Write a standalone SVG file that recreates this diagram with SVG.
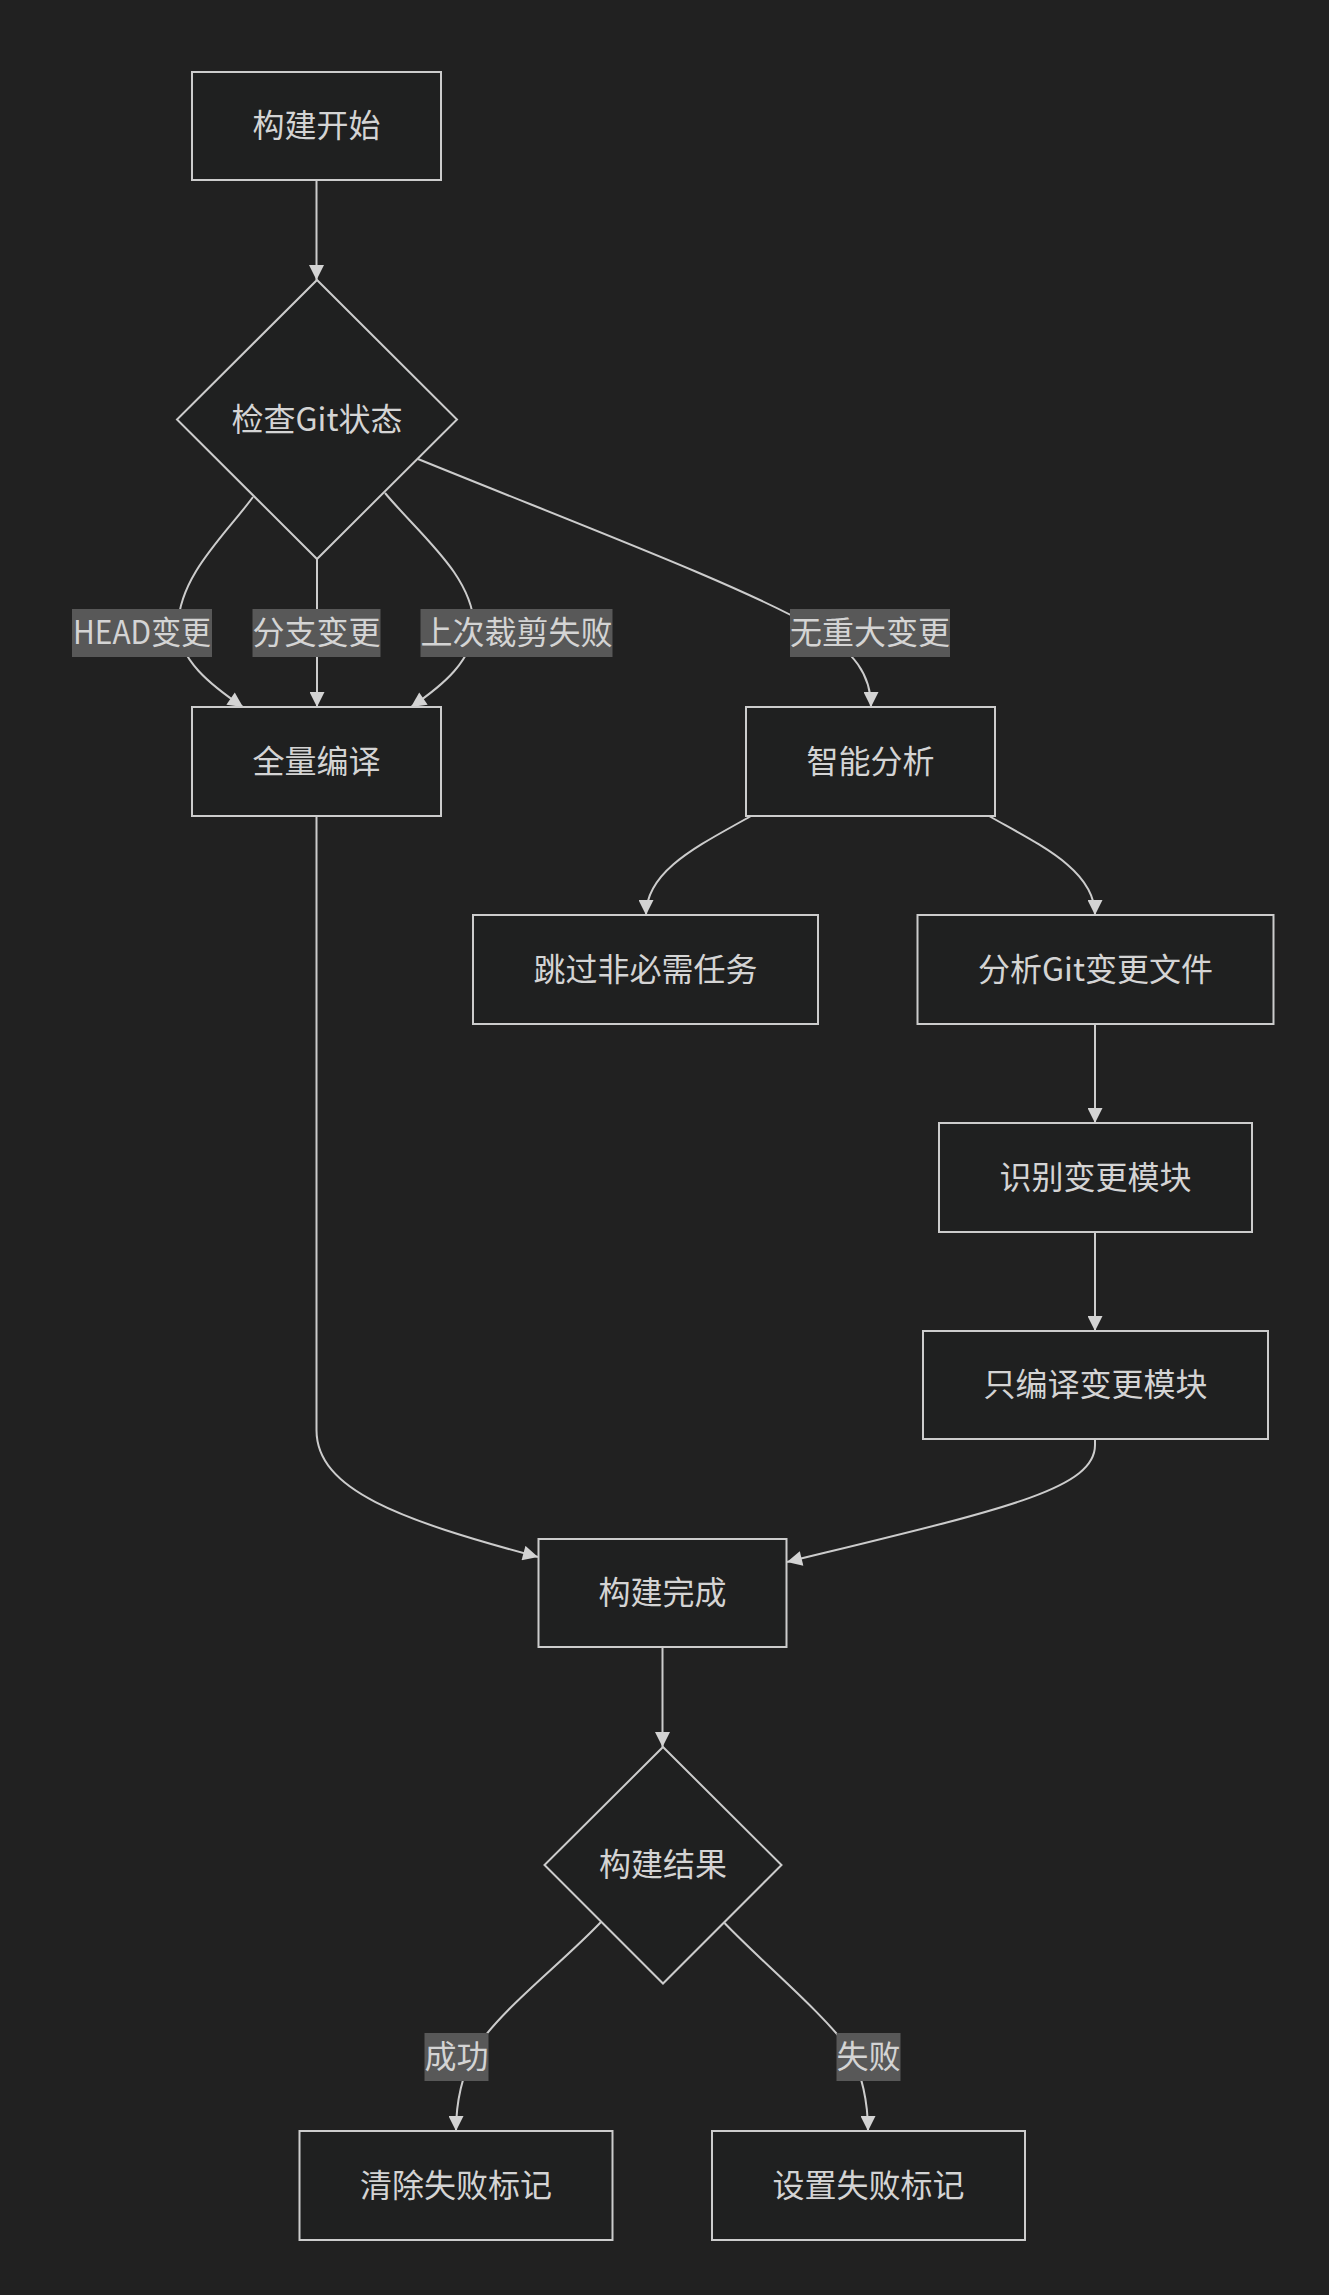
<svg xmlns="http://www.w3.org/2000/svg" width="1329" height="2295" viewBox="0 0 1329 2295">
<style>
.node rect, .node polygon { fill: #1f2020; stroke: #cccccc; stroke-width: 2; }
.node text { fill: #d4d4d4; font-family: "Noto Sans CJK SC", "Noto Sans", sans-serif; font-size: 32px; text-anchor: middle; dominant-baseline: central; }
.edge { fill: none; stroke: #cccccc; stroke-width: 2; marker-end: url(#arrow); }
.elabel rect { fill: #585858; }
.elabel text { fill: #d4d4d4; font-family: "Noto Sans CJK SC", "Noto Sans", sans-serif; font-size: 32px; text-anchor: middle; dominant-baseline: central; }
</style>
<defs>
<marker id="arrow" viewBox="0 0 10 10" refX="10" refY="5" markerUnits="userSpaceOnUse" markerWidth="16" markerHeight="15" orient="auto">
<path d="M0,0 L10,5 L0,10 z" fill="#d3d3d3"/>
</marker>
</defs>
<rect x="0" y="0" width="1329" height="2295" fill="#212121"/>
<g id="connectors">
<path class="edge" d="M316.5,181 L316.5,280"/>
<path class="edge" d="M253,497 C225,535 180,575 178,625 C178,660 212,686 243,707"/>
<path class="edge" d="M317,559 L317,707"/>
<path class="edge" d="M385,493 C420,535 472,575 474,625 C474,660 442,686 411,707"/>
<path class="edge" d="M418,459 C580,525 740,585 815,628 C855,652 871,675 871,707"/>
<path class="edge" d="M751,816 C700,845 646,870 646,915"/>
<path class="edge" d="M989,816 C1040,845 1095,870 1095,915"/>
<path class="edge" d="M1095,1024 L1095,1123"/>
<path class="edge" d="M1095,1232 L1095,1331"/>
<path class="edge" d="M316.5,816 L316.5,1430 C316.5,1490 400,1520 538,1557"/>
<path class="edge" d="M1095,1440 L1095,1445 C1095,1490 1000,1510 787,1562"/>
<path class="edge" d="M662.5,1648 L662.5,1747"/>
<path class="edge" d="M601,1922 C560,1965 500,2010 475,2050 C462,2075 456,2100 456,2131"/>
<path class="edge" d="M724.5,1923 C765,1965 820,2010 850,2050 C862,2075 868,2100 868,2131"/>
</g>
<g id="edge-labels">
<g class="elabel"><rect x="72" y="609" width="140" height="48"/><text x="142" y="630" textLength="138" lengthAdjust="spacingAndGlyphs">HEAD变更</text></g>
<g class="elabel"><rect x="252.5" y="609" width="128" height="48"/><text x="316.5" y="630">分支变更</text></g>
<g class="elabel"><rect x="420.5" y="609" width="192" height="48"/><text x="516.5" y="630">上次裁剪失败</text></g>
<g class="elabel"><rect x="790" y="609" width="160" height="48"/><text x="870" y="630">无重大变更</text></g>
<g class="elabel"><rect x="424.5" y="2033" width="64" height="48"/><text x="456.5" y="2054">成功</text></g>
<g class="elabel"><rect x="836.5" y="2033" width="64" height="48"/><text x="868.5" y="2054">失败</text></g>
</g>
<g id="n-start" class="node"><rect x="192" y="72" width="249" height="108"/><text x="316.5" y="123">构建开始</text></g>
<g id="n-check" class="node"><polygon points="317,280 457,419.5 317,559 177,419.5"/><text x="317" y="416.5">检查Git状态</text></g>
<g id="n-full" class="node"><rect x="192" y="707" width="249" height="109"/><text x="316.5" y="758.5">全量编译</text></g>
<g id="n-smart" class="node"><rect x="746" y="707" width="249" height="109"/><text x="870.5" y="758.5">智能分析</text></g>
<g id="n-skip" class="node"><rect x="473" y="915" width="345" height="109"/><text x="645.5" y="966.5">跳过非必需任务</text></g>
<g id="n-analyze" class="node"><rect x="917.5" y="915" width="356" height="109"/><text x="1095.5" y="966.5">分析Git变更文件</text></g>
<g id="n-identify" class="node"><rect x="939" y="1123" width="313" height="109"/><text x="1095.5" y="1174.5">识别变更模块</text></g>
<g id="n-compile" class="node"><rect x="923" y="1331" width="345" height="108"/><text x="1095.5" y="1382">只编译变更模块</text></g>
<g id="n-done" class="node"><rect x="538.5" y="1539" width="248" height="108"/><text x="662.5" y="1590">构建完成</text></g>
<g id="n-result" class="node"><polygon points="663,1747 781.5,1865 663,1983.5 544.5,1865"/><text x="663" y="1862">构建结果</text></g>
<g id="n-clear" class="node"><rect x="299.5" y="2131" width="313" height="109"/><text x="456" y="2182.5">清除失败标记</text></g>
<g id="n-set" class="node"><rect x="712" y="2131" width="313" height="109"/><text x="868.5" y="2182.5">设置失败标记</text></g>
</svg>
